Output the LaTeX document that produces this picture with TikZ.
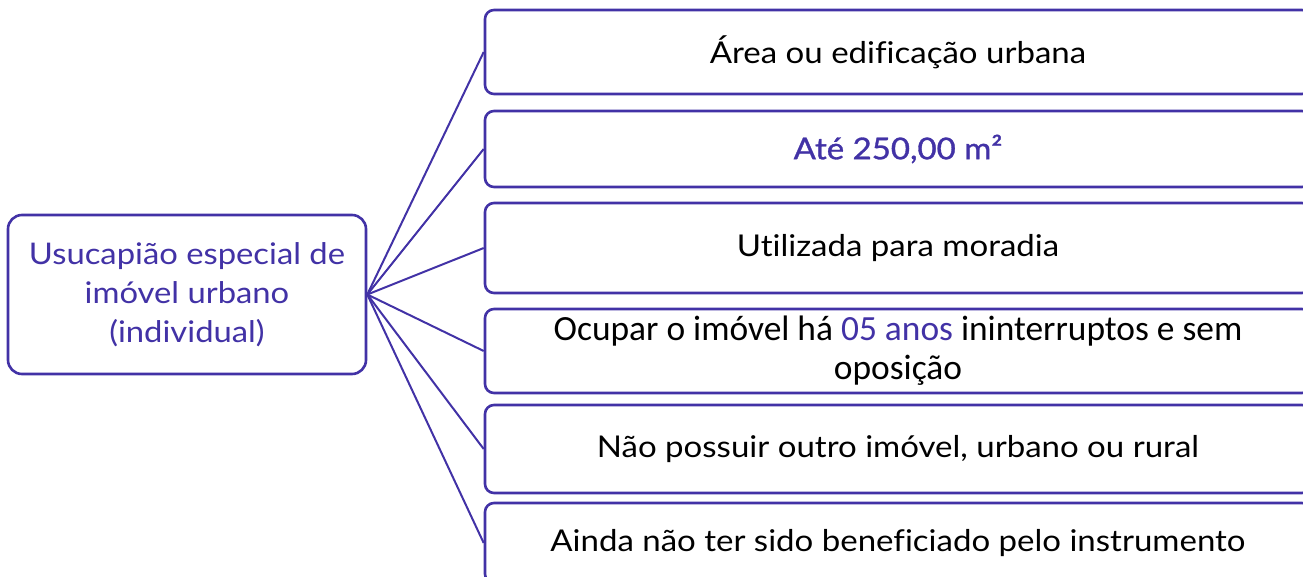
\documentclass[tikz,border=0pt]{standalone}
\usepackage{fontspec}
\setmainfont{Lato}[Ligatures=NoCommon, FakeStretch=1.1]
\newfontfamily\condfont{Carlito}
\newfontfamily\medfont{Lato}[Ligatures=NoCommon, FakeStretch=1.1, FakeBold=1]
\definecolor{ink}{RGB}{66,50,166}
\tikzset{
  line/.style={draw=ink, line width=2.6pt},
  mainbox/.style={line, rounded corners=14pt, fill=white, minimum width=358pt, minimum height=159pt, inner sep=0pt, align=center, text=ink, font=\fontsize{29.8}{39}\selectfont},
  itembox/.style={line, rounded corners=9pt, fill=white, minimum width=826pt, inner sep=0pt, align=center, text=black, font=\fontsize{30}{39}\selectfont},
  link/.style={draw=ink, line width=2pt}
}
\begin{document}
\begin{tikzpicture}[x=1pt,y=-1pt]
\useasboundingbox (0,0) rectangle (1303,576);
\clip (0,0) rectangle (1303,576);
\node[mainbox] (m) at (187,294.5) {Usucapião especial de\\imóvel urbano\\(individual)};
\node[itembox, minimum height=84pt] (b1) at (898,52) {Área ou edificação urbana};
\node[itembox, minimum height=76pt, text=ink, font=\medfont\fontsize{30}{39}\selectfont] (b2) at (898,149) {Até 250,00 m²};
\node[itembox, minimum height=90pt] (b3) at (898,248) {Utilizada para moradia};
\node[itembox, minimum height=84pt, font=\condfont\fontsize{35.4}{39}\selectfont] (b4) at (898,351) {Ocupar o imóvel há \textcolor{ink}{05 anos} ininterruptos e sem\\oposição};
\node[itembox, minimum height=88pt] (b5) at (898,449) {Não possuir outro imóvel, urbano ou rural};
\node[itembox, minimum height=80pt] (b6) at (898,543) {Ainda não ter sido beneficiado pelo instrumento};
\foreach \b in {b1,b2,b3,b4,b5,b6}{
  \draw[link] (m.east) -- (\b.west);
}
\end{tikzpicture}
\end{document}
